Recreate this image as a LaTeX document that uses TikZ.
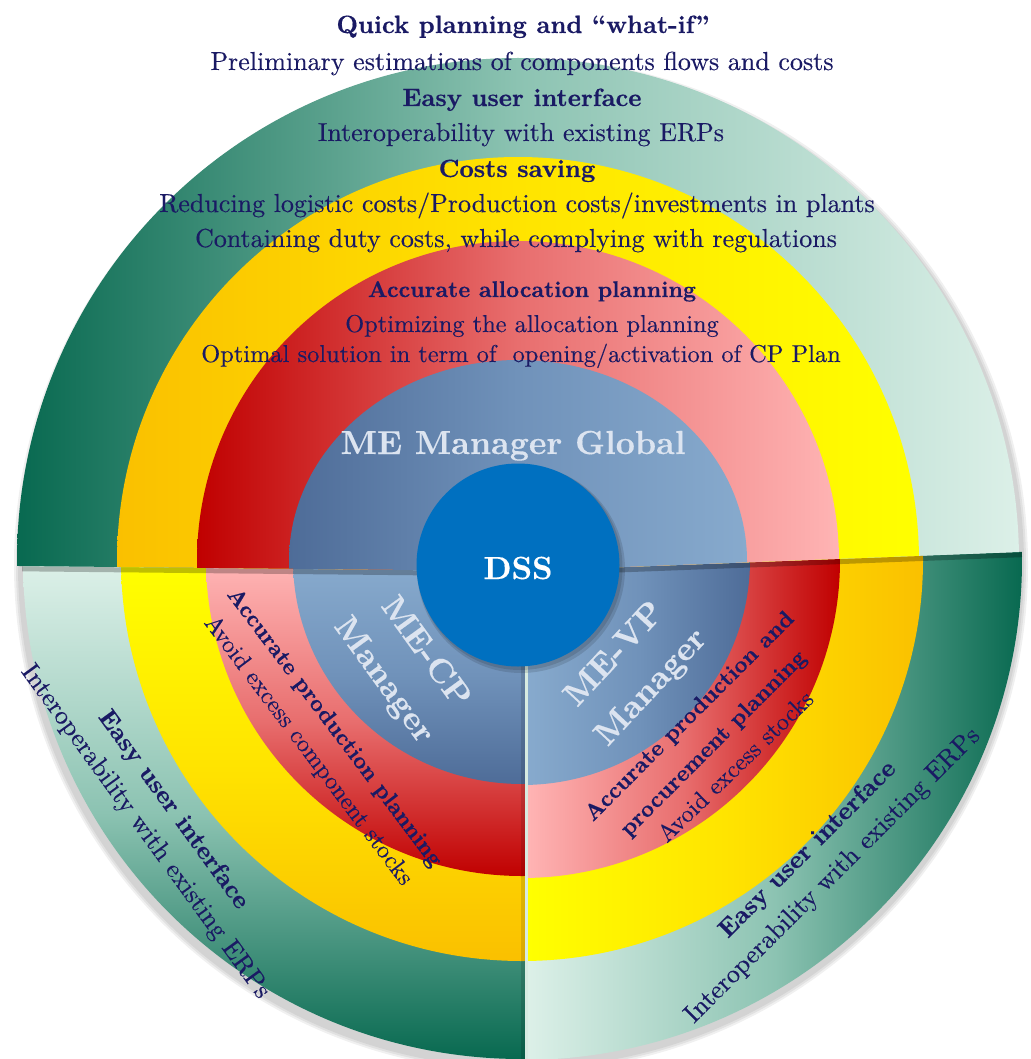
\documentclass[tikz,border=0pt]{standalone}
\usepackage{graphicx}
\definecolor{gdark}{RGB}{8,105,80}
\definecolor{gmid}{RGB}{140,195,178}
\definecolor{gpale}{RGB}{220,240,232}
\definecolor{ydark}{RGB}{250,192,0}
\definecolor{ymid}{RGB}{255,228,0}
\definecolor{ypale}{RGB}{255,255,0}
\definecolor{rdark}{RGB}{192,0,0}
\definecolor{rmid}{RGB}{232,110,110}
\definecolor{rpale}{RGB}{255,180,180}
\definecolor{bdark}{RGB}{78,108,152}
\definecolor{bmid}{RGB}{112,146,186}
\definecolor{bpale}{RGB}{135,170,205}
\definecolor{dss}{RGB}{0,112,192}
\definecolor{navy}{RGB}{26,26,100}
\definecolor{melab}{RGB}{220,228,240}
\definecolor{gapc}{RGB}{215,235,225}
\font\fReg="[lmroman10-regular.otf]:embolden=0.3" at 26pt
\font\fRegR="[lmroman10-regular.otf]:embolden=0.3" at 24.4pt
\font\fBold="[lmroman10-bold.otf]:embolden=0.5" at 25pt
\font\fBoldR="[lmroman10-bold.otf]:embolden=0.5" at 22.7pt
\font\fME="[lmroman10-bold.otf]:embolden=0.3" at 33.3pt
\font\fDSS="[lmroman10-bold.otf]:embolden=0.3" at 32pt
\tikzset{
  txt/.style={text=navy, inner sep=0pt, font=\fReg},
  txtb/.style={text=navy, inner sep=0pt, font=\fBold},
  rtxt/.style={text=navy, inner sep=0pt, font=\fRegR},
  rtxtb/.style={text=navy, inner sep=0pt, font=\fBoldR},
  melabel/.style={text=melab, inner sep=0pt, font=\fME},
}
\newcommand\ringh[9]{\begin{scope}\clip (#1,#2) ellipse[x radius=#3,y radius=#4];\shade[left color=#7,right color=#9,middle color=#8] (#5,-10) rectangle (#6,1070);\end{scope}}
\newcommand\ringv[9]{\begin{scope}\clip (#1,#2) ellipse[x radius=#3,y radius=#4];\shade[top color=#7,bottom color=#9,middle color=#8] (-10,#5) rectangle (1040,#6);\end{scope}}
\begin{document}
\begin{tikzpicture}[x=1pt,y=-1pt]
\useasboundingbox (0,0) rectangle (1030,1059);
\fill[white] (0,0) rectangle (1030,1059);
% soft outer shadow
\foreach \k in {6,4,2} {\fill[black,opacity=0.06] (521,565) circle[radius=501+\k];}
% bottom-left sector
\begin{scope}
  \clip (-10,565.7) -- (525,571.2) -- (525,1070) -- (-10,1070) -- cycle;
  \ringv{522}{560}{499}{499}{566}{1059}{gpale}{gmid}{gdark}
  \ringv{522}{560}{401}{401}{566}{961}{ypale}{ymid}{ydark}
  \ringv{522}{560}{316}{316}{566}{876}{rpale}{rmid}{rdark}
  \ringv{522}{560}{229}{224}{566}{784}{bpale}{bmid}{bdark}
\end{scope}
% bottom-right sector
\begin{scope}
  \clip (527.5,570.6) -- (1040,551.2) -- (1040,1070) -- (527.5,1070) -- cycle;
  \ringh{522}{560}{500}{500}{527.5}{1022}{gpale}{gmid}{gdark}
  \ringh{522}{560}{401}{401}{527.5}{923}{ypale}{ymid}{ydark}
  \ringh{522}{560}{318}{318}{527.5}{840}{rpale}{rmid}{rdark}
  \ringh{522}{560}{228}{225}{527.5}{750}{bpale}{bmid}{bdark}
\end{scope}
% seam shadows
\begin{scope}
  \clip (522,560) circle[radius=500];
  \draw[black,opacity=0.25,line width=5] (-10,568.5) -- (518,573.8) -- (1040,554);
  \fill[black,opacity=0.12] (521,571) rectangle (525,1070);
\end{scope}
% top sector
\begin{scope}
  \clip (-10,565.7) -- (518,571) -- (1040,551.2) -- (1040,-10) -- (-10,-10) -- cycle;
  \ringh{518}{561}{501}{503}{17}{1019}{gdark}{gmid}{gpale}
  \ringh{518}{561}{401}{404}{117}{919}{ydark}{ymid}{ypale}
  \ringh{518}{561}{321}{320}{197}{839}{rdark}{rmid}{rpale}
  \ringh{518}{561}{229}{201}{289}{747}{bdark}{bmid}{bpale}
\end{scope}
% gap between the two lower sectors
\begin{scope}
  \clip (522,560) circle[radius=500];
  \fill[gapc] (525,571) rectangle (527.5,1070);
\end{scope}
% DSS
\fill[black,opacity=0.12] (521,569) circle[radius=104];
\fill[black,opacity=0.12] (520,567.5) circle[radius=102.5];
\node[circle, fill=dss, minimum size=203pt, inner sep=0pt] (dss) at (518,565) {};
\node[text=white, inner sep=0pt, anchor=base, font=\fDSS] (dsst) at (518,579) {DSS};
% top texts
\node[txtb,anchor=base] (t1) at (523,33) {Quick planning and “what-if”};
\node[txt,anchor=base] (t2) at (522,70) {Preliminary estimations of components flows and costs};
\node[txtb,anchor=base] (t3) at (522,106) {Easy user interface};
\node[txt,anchor=base] (t4) at (521,141) {Interoperability with existing ERPs};
\node[txtb,anchor=base] (t5) at (517,177) {Costs saving};
\node[txt,anchor=base] (t6) at (517,212) {Reducing logistic costs/Production costs/investments in plants};
\node[txt,anchor=base] (t7) at (516,247) {Containing duty costs, while complying with regulations};
\node[rtxtb,anchor=base] (t8) at (532,297) {Accurate allocation planning};
\node[rtxt,anchor=base] (t9) at (532,332) {Optimizing the allocation planning};
\node[rtxt,anchor=base] (t10) at (521,362) {Optimal solution in term of\ \ opening/activation of CP Plan};
\node[melabel,anchor=base] (t11) at (513,454) {ME Manager Global};
% bottom-left texts
\node[melabel,rotate=-54] (bl1) at (427,651) {ME-CP};
\node[melabel,rotate=-54] (bl2) at (383,681) {Manager};
\node[rtxtb,rotate=-53] (bl3) at (334,728) {Accurate production planning};
\node[rtxt,rotate=-53] (bl4) at (308,751) {Avoid excess component stocks};
\node[txtb,rotate=-54] (bl5) at (173,810) {Easy user interface};
\node[txt,rotate=-54] (bl6) at (145,832) {Interoperability with existing ERPs};
% bottom-right texts
\node[melabel,rotate=47] (br1) at (613,653) {ME-VP};
\node[melabel,rotate=47] (br2) at (652,688) {Manager};
\node[rtxtb,rotate=45] (br3) at (690,717) {Accurate production and};
\node[rtxtb,rotate=45] (br4) at (714,744) {procurement planning};
\node[rtxt,rotate=44] (br5) at (735,766) {Avoid excess stocks};
\node[txtb,rotate=45] (br6) at (808,850) {Easy user interface};
\node[txt,rotate=45] (br7) at (833,876) {Interoperability with existing ERPs};
\end{tikzpicture}
\end{document}
